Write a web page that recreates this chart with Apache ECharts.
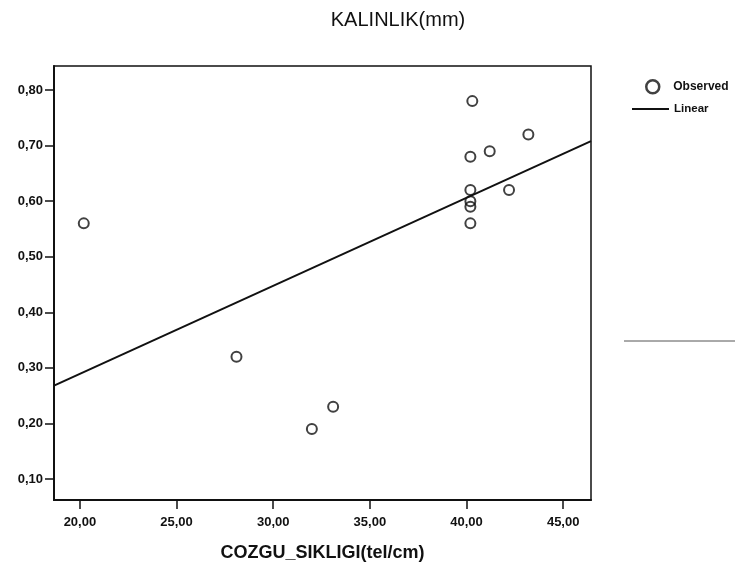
<!DOCTYPE html>
<html>
<head>
<meta charset="utf-8">
<script src="https://cdn.jsdelivr.net/npm/echarts@6/dist/echarts.min.js"></script>
<style>
html,body{margin:0;padding:0;background:#fff;}
#chart{width:735px;height:571px;}
</style>
</head>
<body>
<div id="chart"></div>
<script>
// Observed points (COZGU_SIKLIGI, KALINLIK)
var obsX = [20.2, 28.1, 32.0, 33.1, 40.3, 43.2, 41.2, 40.2, 40.2, 42.2, 40.2, 40.2, 40.2];
var obsY = [0.56, 0.32, 0.19, 0.23, 0.78, 0.72, 0.69, 0.68, 0.62, 0.62, 0.60, 0.59, 0.56];
// Linear fit line as read at the plot edges
var fitX = [18.66, 46.44];
var fitY = [0.268, 0.708];
// Tick values
var xTicks = [20, 25, 30, 35, 40, 45];
var yTicks = [0.1, 0.2, 0.3, 0.4, 0.5, 0.6, 0.7, 0.8];
var titleText = 'KALINLIK(mm)';
var xName = 'COZGU_SIKLIGI(tel/cm)';

var obsData = obsX.map(function (x, i) { return [x, obsY[i]]; });
var fitData = fitX.map(function (x, i) { return [x, fitY[i]]; });
function fmt(v) { return v.toFixed(2).replace('.', ','); }

var chart = echarts.init(document.getElementById('chart'), null, {renderer: 'canvas'});
chart.setOption({
  animation: false,
  backgroundColor: '#fff',
  title: {
    text: titleText,
    left: 393, top: 5, textAlign: 'center',
    textStyle: {fontFamily: 'Liberation Sans', fontSize: 20, fontWeight: 'normal', color: '#111'}
  },
  grid: {
    left: 54, top: 66, width: 537, height: 434,
    show: true, borderColor: '#111', borderWidth: 1.5, backgroundColor: 'transparent'
  },
  legend: [{
    data: ['Observed'], left: 640, top: 74, orient: 'vertical',
    itemWidth: 13, itemHeight: 13,
    itemStyle: {color: '#fff', borderColor: '#111', borderWidth: 2.5},
    textStyle: {fontFamily: 'Liberation Sans', fontSize: 12, fontWeight: 'bold', color: '#111', padding: [0, 0, 0, 9]}
  }, {
    data: [{name: 'Linear', icon: 'rect'}], left: 627, top: 98, orient: 'vertical',
    itemWidth: 37, itemHeight: 2,
    itemStyle: {color: '#111', borderWidth: 0},
    lineStyle: {width: 0},
    textStyle: {fontFamily: 'Liberation Sans', fontSize: 11.5, fontWeight: 'bold', color: '#111'}
  }],
  xAxis: {
    type: 'value', min: 18.66, max: 46.44,
    name: xName, nameLocation: 'middle', nameGap: 44,
    nameTextStyle: {fontFamily: 'Liberation Sans', fontSize: 18, fontWeight: 'bold', color: '#111'},
    axisLine: {show: true, lineStyle: {color: '#111', width: 2}},
    axisTick: {show: true, length: 9, lineStyle: {color: '#111', width: 1.5}, customValues: xTicks},
    axisLabel: {show: true, margin: 16, customValues: xTicks, formatter: fmt,
      fontFamily: 'Liberation Sans', fontSize: 13, fontWeight: 'bold', color: '#111'},
    splitLine: {show: false}
  },
  yAxis: {
    type: 'value', min: 0.0622, max: 0.8432,
    axisLine: {show: true, lineStyle: {color: '#111', width: 2}},
    axisTick: {show: true, length: 9, lineStyle: {color: '#111', width: 1.5}, customValues: yTicks},
    axisLabel: {show: true, margin: 11, customValues: yTicks, formatter: fmt,
      fontFamily: 'Liberation Sans', fontSize: 13, fontWeight: 'bold', color: '#111'},
    splitLine: {show: false}
  },
  series: [{
    name: 'Observed', type: 'scatter', data: obsData,
    symbol: 'circle', symbolSize: 10,
    itemStyle: {color: 'rgba(255,255,255,0)', borderColor: '#111', borderWidth: 2}
  }, {
    name: 'Linear', type: 'line', data: fitData,
    symbol: 'none', showSymbol: false,
    itemStyle: {color: '#111'},
    lineStyle: {color: '#111', width: 2}
  }],
  graphic: [{
    type: 'line', silent: true,
    shape: {x1: 624, y1: 341, x2: 735, y2: 341},
    style: {stroke: '#555', lineWidth: 1}
  }]
});
</script>
</body>
</html>
